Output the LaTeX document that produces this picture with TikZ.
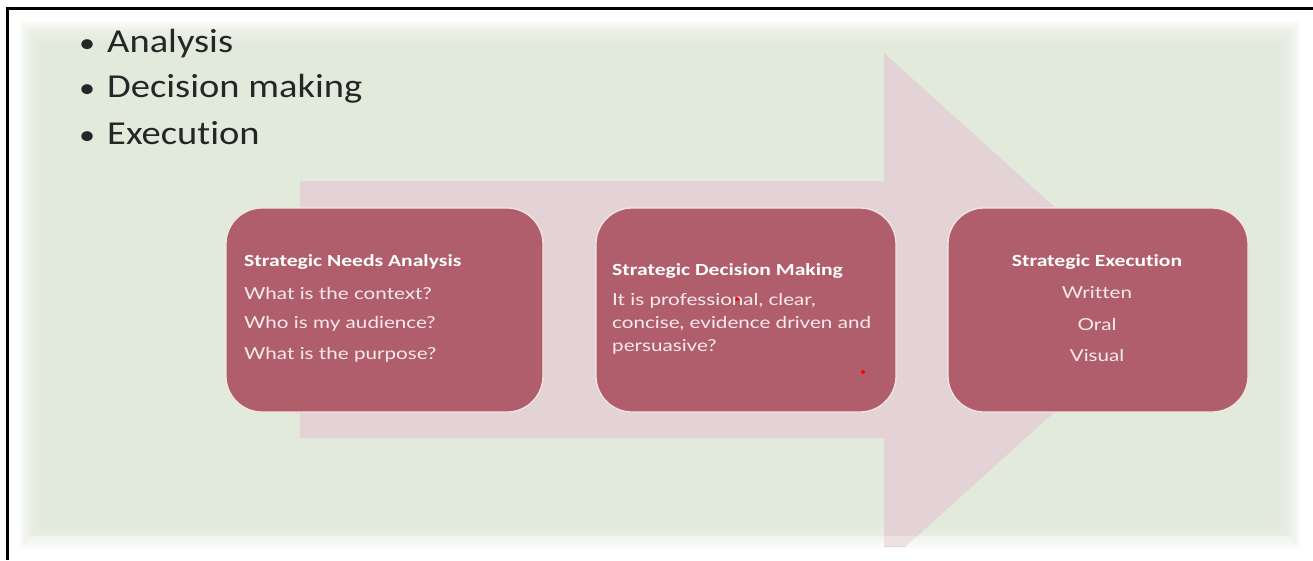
\documentclass[tikz,border=0pt]{standalone}
\usepackage{fontspec}
\setmainfont{Carlito}
\newfontfamily\titlefont[FakeStretch=1.27,Ligatures=NoCommon]{Carlito}
\newfontfamily\bodyfont[FakeStretch=1.25,Ligatures=NoCommon]{Lato}
\newfontfamily\bulletfont[FakeStretch=1.15,Ligatures=NoCommon]{Carlito}
\definecolor{bggreen}{HTML}{E2EADB}
\definecolor{arrowpink}{HTML}{E3D3D6}
\definecolor{boxfill}{HTML}{B05E6B}
\definecolor{boxedge}{HTML}{F4E4E6}
\definecolor{boxtext}{HTML}{F6EBED}
\definecolor{bullettext}{HTML}{262626}
\begin{document}
\begin{tikzpicture}[x=1pt,y=-1pt,
  stagebox/.style={draw=boxedge, line width=1.3pt, fill=boxfill, rounded corners=36pt,
    minimum height=204pt, inner sep=0pt},
  boxtitle/.style={font=\titlefont\bfseries\fontsize{17}{20}\selectfont, text=white, inner sep=0pt},
  boxbody/.style={font=\bodyfont\fontsize{16.5}{23}\selectfont, text=boxtext, inner sep=0pt},
  bulletitem/.style={font=\bulletfont\fontsize{33.5}{36}\selectfont, text=bullettext, anchor=west, inner sep=0pt},
  laser/.style={fill=red, draw=none, circle, inner sep=0pt, minimum size=4pt}
]
\useasboundingbox (0,0) rectangle (1313,560);
\fill[white] (0,0) rectangle (1313,560);
% soft-edged green background
\foreach \i in {0,...,11}{
  \fill[bggreen, opacity=0.16] (20+2*\i,22+2*\i) rectangle (1300-2*\i,548-2*\i);
}
\fill[bggreen] (44,46) rectangle (1276,524);
% big arrow
\begin{scope}
\clip (28,30) rectangle (1292,546);
\fill[arrowpink] (300,181) -- (884,181) -- (884,53) -- (1168,309.5) -- (884,566) -- (884,438) -- (300,438) -- cycle;
\fill[white, opacity=0.35] (28,536) rectangle (1292,546);
\end{scope}
% border lines
\draw[line width=3pt, black] (7,560) -- (7,8) -- (1313,8);
% bullets
\node[bulletitem] (b1) at (79,44) {{\fontsize{28}{30}\selectfont\textbullet}\hspace{12pt}Analysis};
\node[bulletitem] (b2) at (79,89) {{\fontsize{28}{30}\selectfont\textbullet}\hspace{12pt}Decision making};
\node[bulletitem] (b3) at (79,133) {{\fontsize{28}{30}\selectfont\textbullet}\hspace{12pt}Execution};
% stage boxes
\node[stagebox, minimum width=317pt] (s1) at (384.5,310) {};
\node[stagebox, minimum width=300pt] (s2) at (746,310) {};
\node[stagebox, minimum width=300pt] (s3) at (1098,310) {};
% box 1 text
\node[boxtitle, anchor=west] (t1) at (244,262) {Strategic Needs Analysis};
\node[boxbody, anchor=west] (t1a) at (244,293) {What is the context?};
\node[boxbody, anchor=west] (t1b) at (244,324) {Who is my audience?};
\node[boxbody, anchor=west] (t1c) at (244,355) {What is the purpose?};
% box 2 text
\node[boxtitle, anchor=west] (t2) at (612,271) {Strategic Decision Making};
\node[boxbody, anchor=west] (t2a) at (612,301) {It is professional, clear,};
\node[boxbody, anchor=west] (t2b) at (612,324) {concise, evidence driven and};
\node[boxbody, anchor=west] (t2c) at (612,347) {persuasive?};
% box 3 text
\node[boxtitle] (t3) at (1097,262) {Strategic Execution};
\node[boxbody] (t3a) at (1097,293) {Written};
\node[boxbody] (t3b) at (1097,324) {Oral};
\node[boxbody] (t3c) at (1097,355) {Visual};
% laser pointer dots
\node[laser] (d1) at (737,299) {};
\node[laser] (d2) at (863,372) {};
\end{tikzpicture}
\end{document}
